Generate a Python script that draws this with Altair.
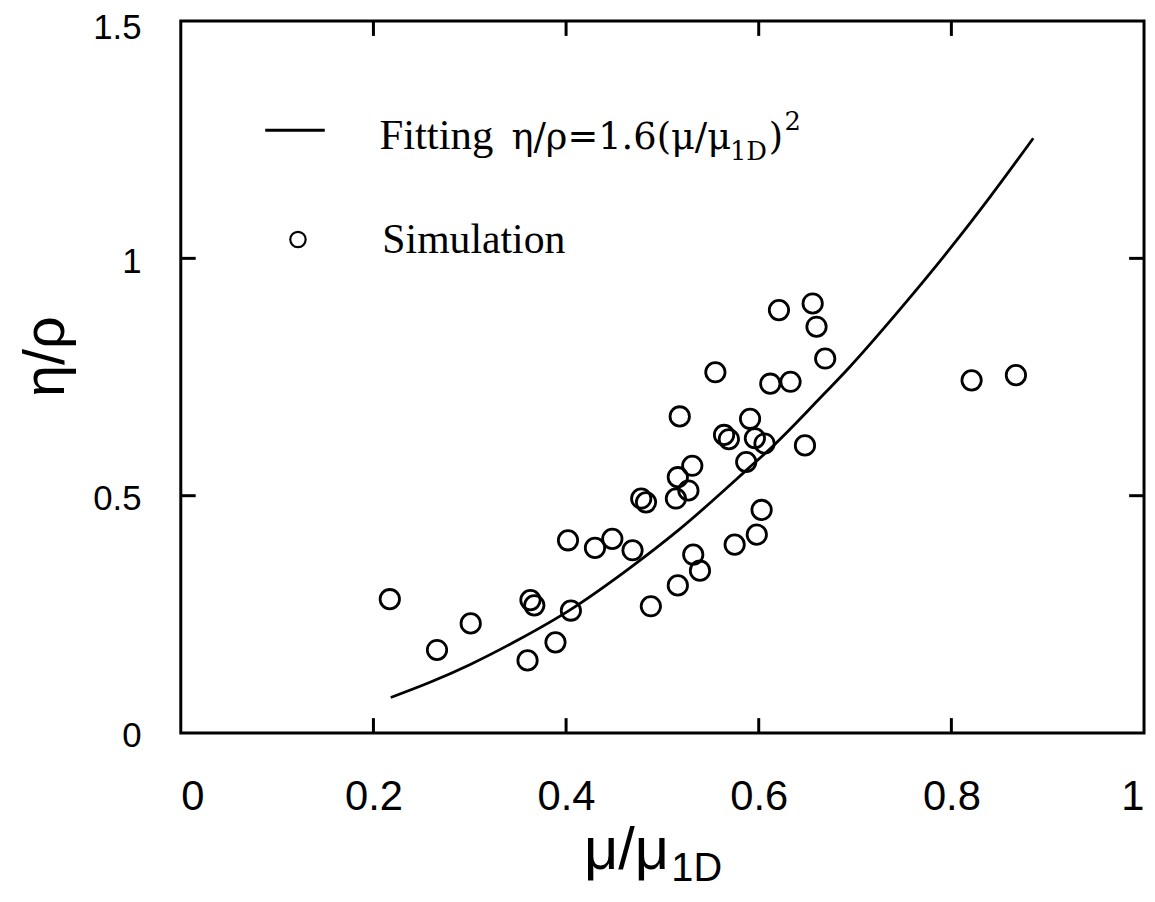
import altair as alt
import pandas as pd

# ---- data ----
sim_x = [0.217, 0.266, 0.301, 0.360, 0.363, 0.367, 0.389, 0.402, 0.405, 0.430,
         0.448, 0.469, 0.478, 0.483, 0.488, 0.514, 0.516, 0.516, 0.518, 0.527,
         0.531, 0.532, 0.539, 0.555, 0.564, 0.569, 0.575, 0.587, 0.591, 0.596,
         0.598, 0.603, 0.606, 0.612, 0.621, 0.633, 0.648, 0.656, 0.660, 0.669,
         0.821, 0.867]
sim_y = [0.282, 0.175, 0.231, 0.153, 0.280, 0.269, 0.191, 0.406, 0.258, 0.390,
         0.409, 0.385, 0.494, 0.486, 0.267, 0.494, 0.539, 0.311, 0.667, 0.511,
         0.563, 0.376, 0.342, 0.760, 0.628, 0.619, 0.397, 0.571, 0.662, 0.621,
         0.418, 0.470, 0.610, 0.736, 0.891, 0.740, 0.606, 0.905, 0.856, 0.789,
         0.743, 0.754]

fit_x = [0.218, 0.26, 0.30, 0.35, 0.403, 0.465, 0.517, 0.589, 0.616, 0.661,
         0.693, 0.751, 0.80, 0.84, 0.885]
fit_y = [0.075, 0.108, 0.144, 0.196, 0.258, 0.346, 0.428, 0.557, 0.607, 0.700,
         0.768, 0.903, 1.024, 1.129, 1.253]

x_ticks = [0, 0.2, 0.4, 0.6, 0.8, 1]
y_ticks = [0, 0.5, 1, 1.5]
x_inner_ticks = [0.2, 0.4, 0.6, 0.8]
y_inner_ticks = [0.5, 1.0]

legend_fit_word = "Fitting"
legend_fit_main = "η/ρ=1.6(μ/μ"
legend_fit_sub = "1D"
legend_fit_close = ")"
legend_fit_sup = "2"
legend_sim = "Simulation"
x_title_main = "μ/μ"
x_title_sub = "1D"
y_title = "η/ρ"

W, H = 970, 717
TL = 15  # inward tick length

sim_df = pd.DataFrame({"x": sim_x, "y": sim_y})
fit_df = pd.DataFrame({"x": fit_x, "y": fit_y})
xt_df = pd.DataFrame({"t": x_inner_ticks})
yt_df = pd.DataFrame({"t": y_inner_ticks})
one = pd.DataFrame({"a": [0]})

xscale = alt.Scale(domain=[0, 1], nice=False, zero=False)
yscale = alt.Scale(domain=[0, 1.5], nice=False, zero=False)
xaxis = alt.Axis(values=x_ticks, format="~g", labelPadding=44, tickSize=0,
                 ticks=False, domain=False, grid=False, title=None,
                 labelFont="Liberation Sans Narrow, Arial Narrow, Liberation Sans",
                 labelFontSize=42)
yaxis = alt.Axis(values=y_ticks, format="~g", labelPadding=40, tickSize=0,
                 ticks=False, domain=False, grid=False, title=None,
                 labelFont="Liberation Sans", labelFontSize=35,
                 labelOffset={"condition": {"test": "datum.value >= 1.5", "value": 7}, "value": 3})

fit = alt.Chart(fit_df).mark_line(color="black", strokeWidth=2.8, interpolate="monotone").encode(
    x=alt.X("x:Q", scale=xscale, axis=xaxis),
    y=alt.Y("y:Q", scale=yscale, axis=yaxis),
)

pts = alt.Chart(sim_df).mark_point(shape="circle", filled=False, color="black",
                                   size=380, strokeWidth=2.8, opacity=1).encode(
    x=alt.X("x:Q", scale=xscale, axis=xaxis),
    y=alt.Y("y:Q", scale=yscale, axis=yaxis),
)

tick_style = dict(color="black", strokeWidth=3)
bottom_ticks = alt.Chart(xt_df).mark_rule(**tick_style).encode(
    x=alt.X("t:Q", scale=xscale, axis=xaxis), y=alt.value(H), y2=alt.value(H - TL))
top_ticks = alt.Chart(xt_df).mark_rule(**tick_style).encode(
    x=alt.X("t:Q", scale=xscale, axis=xaxis), y=alt.value(0), y2=alt.value(TL))
left_ticks = alt.Chart(yt_df).mark_rule(**tick_style).encode(
    y=alt.Y("t:Q", scale=yscale, axis=yaxis), x=alt.value(0), x2=alt.value(TL))
right_ticks = alt.Chart(yt_df).mark_rule(**tick_style).encode(
    y=alt.Y("t:Q", scale=yscale, axis=yaxis), x=alt.value(W), x2=alt.value(W - TL))

serif = "Liberation Serif"
wserif = "DejaVu Serif"
sans = "Liberation Sans"

leg_line = alt.Chart(one).mark_rule(color="black", strokeWidth=2.8).encode(
    x=alt.value(85), x2=alt.value(145), y=alt.value(110))
leg_pt = alt.Chart(one).mark_point(shape="circle", filled=False, color="black",
                                   size=240, strokeWidth=2.2, opacity=1).encode(
    x=alt.value(118), y=alt.value(220))

def txt(s, x, y, size, font, align="left", baseline="alphabetic", angle=0):
    kw = dict(text=s, font=font, fontSize=size, color="black", align=align, baseline=baseline)
    if angle:
        kw["angle"] = angle
    return alt.Chart(one).mark_text(**kw).encode(x=alt.value(x), y=alt.value(y))

leg_t0 = txt(legend_fit_word, 200, 129, 43, serif)
leg_t1 = txt(legend_fit_main, 333, 129, 37, wserif)
leg_t2 = txt(legend_fit_sub, 553, 140, 26, wserif)
leg_t3 = txt(legend_fit_close, 592, 129, 37, wserif)
leg_t4 = txt(legend_fit_sup, 608, 110, 26, wserif)
leg_s = txt(legend_sim, 203, 234, 42, serif)

xt1 = txt(x_title_main, 406, 854, 60, sans)
xt2 = txt(x_title_sub, 494, 866, 40, sans)
yt = txt(y_title, -135, 338, 58, sans, align="center", baseline="middle", angle=270)

chart = alt.layer(
    fit, pts, bottom_ticks, top_ticks, left_ticks, right_ticks,
    leg_line, leg_pt, leg_t0, leg_t1, leg_t2, leg_t3, leg_t4, leg_s, xt1, xt2, yt,
).properties(
    width=W, height=H,
    autosize=alt.AutoSizeParams(type="none"),
    padding={"left": 174, "top": 10, "right": 3, "bottom": 162},
).configure_view(stroke="black", strokeWidth=3).configure_axis(labelColor="black")

chart.save("out.html", embed_options={"renderer": "svg", "actions": False})
